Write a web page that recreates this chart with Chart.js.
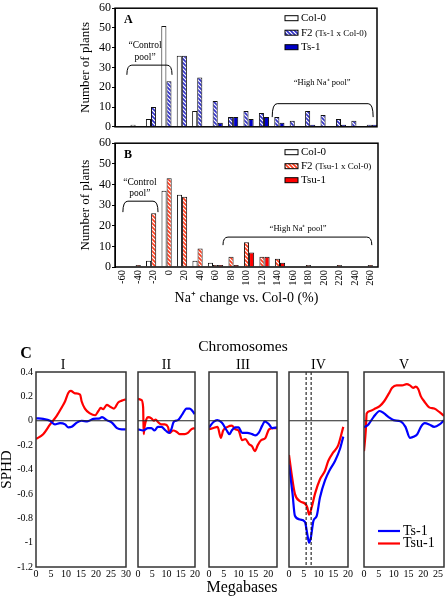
<!DOCTYPE html>
<html>
<head>
<meta charset="utf-8">
<script src="https://cdn.jsdelivr.net/npm/chart.js@4.4.0/dist/chart.umd.min.js"></script>
<style>
body { margin:0; background:#fff; width:446px; height:597px; position:relative; overflow:hidden; font-family:"Liberation Serif", serif; }
canvas { position:absolute; }
.lbl { position:absolute; white-space:nowrap; color:#000; line-height:1; transform:translate(-50%,-50%); }
</style>
</head>
<body>
<canvas id="chartA" width="446" height="135" style="left:0;top:0"></canvas>
<canvas id="chartB" width="446" height="175" style="left:0;top:135px"></canvas>
<canvas id="c0"></canvas><canvas id="c1"></canvas><canvas id="c2"></canvas><canvas id="c3"></canvas><canvas id="c4"></canvas>
<div class="lbl" style="left:26px;top:353px;font-weight:bold;font-size:16px">C</div>
<div class="lbl" style="left:243px;top:346px;font-size:15.5px">Chromosomes</div>
<div class="lbl" style="left:242px;top:587px;font-size:16px">Megabases</div>
<script>
// histogram categories (Na+ change vs Col-0, %)
const categories = ['-60','-40','-20','0','20','40','60','80','100','120','140','160','180','200','220','240','260'];

// panel A
const colA = [0,1,4,51,36,8,0,0,0,0,0,0,0,0,0,0,0];
const f2A  = [0,0,10,23,36,25,13,5,8,7,5,3,8,6,4,3,1];
const ts1A = [0,0,0,0,0,0,2,5,4,5,2,0,1,0,1,0,1];

// panel B
const colB  = [0,0,3,37,35,3,2,0,0,0,0,0,0,0,0,0,0];
const f2B   = [0,1,26,43,34,9,1,5,12,5,4,0,1,0,1,0,1];
const tsu1B = [0,0,0,0,0,0,1,1,7,5,2,0,0,0,0,0,0];

// panel C: [megabase, SPHD]
const chromNames = ['I','II','III','IV','V'];
const chromLengths = [30,20,23,20,27];
const ts1C = [
  [[0,0.02],[2.4,0.015],[4.7,0],[6.3,-0.03],[8,-0.02],[9.7,-0.03],[10.8,-0.055],[11.9,-0.05],[13.6,-0.015],[15.2,0],[17.1,-0.005],[19.1,0.015],[21.3,0.02],[22,0.03],[23.6,0.005],[25.3,-0.015],[27,-0.06],[28.6,-0.07],[29.9,-0.07]],
  [[0,-0.07],[1.8,-0.08],[3.5,-0.06],[4.7,-0.06],[5.8,-0.08],[7,-0.05],[8.2,-0.05],[9.7,-0.08],[10.9,-0.1],[11.7,-0.07],[12.5,-0.01],[14,0.005],[15.6,0.055],[17,0.1],[18.1,0.1],[19.1,0.08],[19.9,0.055]],
  [[0,-0.055],[1.5,-0.01],[2.8,0.005],[4.3,-0.015],[6,-0.08],[6.9,-0.11],[7.7,-0.08],[8.9,-0.055],[10,-0.055],[11.2,-0.1],[12.9,-0.1],[14.6,-0.11],[15.7,-0.12],[16.8,-0.1],[18,-0.04],[18.9,-0.005],[20.3,-0.03],[21.4,-0.06],[23,-0.055]],
  [[0,-0.36],[1.2,-0.6],[2,-0.78],[3.7,-0.81],[5.4,-0.83],[6.2,-0.93],[6.8,-1.0],[7.4,-0.96],[8.3,-0.82],[9.4,-0.78],[10.5,-0.63],[12.2,-0.49],[13.9,-0.4],[15.6,-0.33],[17.3,-0.23],[18.4,-0.13]],
  [[0,-0.055],[1.5,-0.03],[3.2,0.03],[5.3,0.08],[6.8,0.06],[8.3,0.03],[10,0.005],[12.3,-0.005],[14,-0.05],[15.5,-0.14],[16.9,-0.13],[18,-0.11],[19.2,-0.05],[20.5,-0.02],[22,-0.03],[23.7,-0.05],[25.5,-0.03],[27,0.005]]
];
const tsu1C = [
  [[0,-0.15],[2.4,-0.11],[4.7,-0.03],[6.9,0.04],[8.6,0.11],[9.7,0.16],[10.8,0.23],[11.6,0.245],[13,0.225],[14.7,0.215],[15.2,0.16],[16.3,0.1],[18,0.06],[19.7,0.045],[20.8,0.08],[21.6,0.105],[22.4,0.095],[23.6,0.13],[24.7,0.115],[26,0.1],[27.4,0.15],[28.6,0.165],[29.9,0.175]],
  [[0,0.18],[1.2,0.17],[1.8,0.11],[2,-0.11],[2.3,-0.05],[2.9,0.01],[3.5,0.03],[4.7,0.02],[5.5,0],[6.2,0.01],[7,-0.01],[8.2,-0.03],[9.4,-0.03],[10.5,-0.05],[11.1,-0.1],[12.3,-0.08],[13.5,-0.09],[14.6,-0.11],[16.4,-0.11],[17.5,-0.1],[18.7,-0.07],[19.9,-0.06]],
  [[0,-0.07],[1.5,-0.06],[2.9,-0.05],[4,-0.14],[4.8,-0.08],[6.3,-0.05],[7.7,-0.04],[8.9,-0.07],[10,-0.08],[11.2,-0.16],[12.3,-0.15],[13.5,-0.19],[14.6,-0.21],[15.5,-0.25],[16.5,-0.2],[17.6,-0.16],[19.1,-0.14],[20.3,-0.07],[21.8,-0.06],[23,-0.06]],
  [[0,-0.28],[0.9,-0.44],[2,-0.6],[3.7,-0.66],[5.4,-0.68],[6.2,-0.71],[6.8,-0.77],[7.7,-0.71],[8.8,-0.6],[10.5,-0.48],[12.2,-0.41],[13.3,-0.33],[15,-0.26],[16.7,-0.2],[18.4,-0.05]],
  [[0,-0.25],[0.6,-0.08],[0.9,0.06],[2,0.08],[3.8,0.1],[5.3,0.12],[6.8,0.16],[8.3,0.22],[9.5,0.27],[11,0.29],[12.9,0.29],[14.4,0.3],[15.5,0.29],[16.6,0.27],[17.5,0.28],[18.3,0.26],[19.2,0.2],[20.3,0.16],[22,0.11],[23.7,0.1],[25.5,0.07],[27,0.04]]
];
const ivMarkers = [5.8, 7.5];

const serif = '"Liberation Serif", "Times New Roman", serif';

function hatch(color) {
  const c = document.createElement('canvas');
  c.width = 4; c.height = 4;
  const g = c.getContext('2d');
  g.fillStyle = '#fff'; g.fillRect(0, 0, 4, 4);
  g.strokeStyle = color; g.lineWidth = 1.6;
  g.beginPath();
  g.moveTo(-1, -1); g.lineTo(5, 5);
  g.moveTo(3, -1); g.lineTo(5, 1);
  g.moveTo(-1, 3); g.lineTo(1, 5);
  g.stroke();
  return g.createPattern(c, 'repeat');
}

// frame, zero line, brackets, legends
const extras = {
  id: 'extras',
  afterDraw(chart, args, o) {
    const ctx = chart.ctx, a = chart.chartArea, xs = chart.scales.x, ys = chart.scales.y;
    ctx.save();
    if (o.zero) {
      const y0 = ys.getPixelForValue(0);
      ctx.lineWidth = 1; ctx.strokeStyle = '#222';
      ctx.beginPath(); ctx.moveTo(a.left, y0); ctx.lineTo(a.right, y0); ctx.stroke();
    }
    if (o.vlines) {
      ctx.setLineDash([3, 2]); ctx.lineWidth = 1; ctx.strokeStyle = '#000';
      o.vlines.forEach(v => {
        const x = xs.getPixelForValue(v);
        ctx.beginPath(); ctx.moveTo(x, a.top); ctx.lineTo(x, a.bottom); ctx.stroke();
      });
      ctx.setLineDash([]);
    }
    ctx.lineWidth = o.frameWidth || 1.5;
    ctx.strokeStyle = o.frameColor || '#000';
    ctx.strokeRect(a.left, a.top, a.right - a.left, a.bottom - a.top);
    ctx.fillStyle = '#000';
    if (o.letter) {
      ctx.font = 'bold 12px ' + serif; ctx.textAlign = 'left'; ctx.textBaseline = 'middle';
      ctx.fillText(o.letter, a.left + 9, a.top + 12);
    }
    (o.notes || []).forEach(n => {
      const x1 = xs.getPixelForValue(n.from), x2 = xs.getPixelForValue(n.to);
      const yh = ys.getPixelForValue(n.y), ye = ys.getPixelForValue(n.end);
      const r = Math.min(5, ye - yh);
      ctx.lineWidth = 1; ctx.strokeStyle = '#000';
      ctx.beginPath();
      ctx.moveTo(x1, ye); ctx.quadraticCurveTo(x1, yh, x1 + r, yh);
      ctx.lineTo(x2 - r, yh); ctx.quadraticCurveTo(x2, yh, x2, ye);
      ctx.stroke();
      ctx.font = n.size + 'px ' + serif; ctx.textAlign = 'center'; ctx.textBaseline = 'middle';
      n.lines.forEach((t, i) => ctx.fillText(t, xs.getPixelForValue(n.tx), ys.getPixelForValue(n.ty) + i * n.lh));
    });
    if (o.boxLegend) {
      const L = o.boxLegend;
      chart.data.datasets.forEach((d, i) => {
        const bx = a.left + L.dx, by = a.top + L.dy + i * L.gap;
        ctx.fillStyle = d.backgroundColor; ctx.fillRect(bx, by - 2.5, 13, 5);
        ctx.lineWidth = 1; ctx.strokeStyle = '#000'; ctx.strokeRect(bx, by - 2.5, 13, 5);
        ctx.fillStyle = '#000'; ctx.font = '11px ' + serif; ctx.textAlign = 'left'; ctx.textBaseline = 'middle';
        const sp = d.label.indexOf(' ');
        if (sp < 0) {
          ctx.fillText(d.label, bx + 16, by);
        } else {
          const head = d.label.slice(0, sp);
          ctx.fillText(head, bx + 16, by);
          const w = ctx.measureText(head + ' ').width;
          ctx.font = '9px ' + serif;
          ctx.fillText(d.label.slice(sp + 1), bx + 16 + w, by + 0.5);
        }
      });
    }
    if (o.lineLegend) {
      chart.data.datasets.forEach((d, i) => {
        const y = a.bottom - 36 + i * 12.5;
        ctx.strokeStyle = d.borderColor; ctx.lineWidth = 2.2;
        ctx.beginPath(); ctx.moveTo(a.left + 14, y); ctx.lineTo(a.left + 36, y); ctx.stroke();
        ctx.fillStyle = '#000'; ctx.font = '14px ' + serif; ctx.textAlign = 'left'; ctx.textBaseline = 'middle';
        ctx.fillText(d.label, a.left + 39, y);
      });
    }
    ctx.restore();
  }
};

function barChart(id, sets, o) {
  return new Chart(document.getElementById(id), {
    type: 'bar',
    data: {
      labels: categories,
      datasets: sets.map(s => ({ label: s[0], data: s[1], backgroundColor: s[2], borderColor: '#111', borderWidth: 1 }))
    },
    options: {
      responsive: false, animation: false, events: [],
      layout: { padding: o.padding },
      datasets: { bar: { categoryPercentage: 0.99, barPercentage: 1 } },
      scales: {
        x: {
          afterFit(s) { s.height = o.xHeight; },
          ticks: { display: o.xTicks, autoSkip: false, minRotation: 90, maxRotation: 90, padding: 3, color: '#000', font: { family: serif, size: 10.5 } },
          grid: { display: false, drawTicks: false },
          border: { display: false },
          title: { display: !!o.xTitle, text: o.xTitle, color: '#000', font: { family: serif, size: 14 }, padding: { top: 0, bottom: 3 } }
        },
        y: {
          min: 0, max: 60,
          afterFit(s) { s.width = 115; },
          ticks: { stepSize: 10, padding: 1, color: '#000', font: { family: serif, size: 12 } },
          grid: { drawOnChartArea: false, tickLength: 3, color: '#000' },
          border: { color: '#000' },
          title: { display: true, text: 'Number of plants', color: '#000', font: { family: serif, size: 13 }, padding: { top: 78, bottom: 0 } }
        }
      },
      plugins: { legend: { display: false }, tooltip: { enabled: false }, extras: o.extras }
    },
    plugins: [extras]
  });
}

barChart('chartA', [
  ['Col-0', colA, '#ffffff'],
  ['F2 (Ts-1 x Col-0)', f2A, hatch('#3030c8')],
  ['Ts-1', ts1A, '#0000c8']
], {
  padding: { top: 4, right: 69, left: 0, bottom: 0 }, xHeight: 8, xTicks: false,
  extras: {
    letter: 'A',
    boxLegend: { dx: 170, dy: 10, gap: 14.5 },
    notes: [
      { from: 0.27, to: 3.2, y: 31.2, end: 26.3, tx: 1.45, ty: 41, lh: 12, size: 9.5, lines: ['\u201cControl', 'pool\u201d'] },
      { from: 9.7, to: 16.25, y: 11.7, end: 4.9, tx: 12.94, ty: 22.4, lh: 0, size: 8.5, lines: ['\u201cHigh Na\u207a pool\u201d'] }
    ]
  }
});

barChart('chartB', [
  ['Col-0', colB, '#ffffff'],
  ['F2 (Tsu-1 x Col-0)', f2B, hatch('#ff3a1a')],
  ['Tsu-1', tsu1B, '#ff0000']
], {
  padding: { top: 8, right: 68, left: 0, bottom: 0 }, xHeight: 43, xTicks: true, xTitle: 'Na\u207a change vs. Col-0 (%)',
  extras: {
    letter: 'B',
    boxLegend: { dx: 170, dy: 9, gap: 14 },
    notes: [
      { from: 0.01, to: 2.28, y: 31.9, end: 26.6, tx: 1.11, ty: 41.1, lh: 11, size: 9.5, lines: ['\u201cControl', 'pool\u201d'] },
      { from: 6.48, to: 16.1, y: 14.5, end: 10.6, tx: 11.33, ty: 18.4, lh: 0, size: 8.5, lines: ['\u201cHigh Na\u207a pool\u201d'] }
    ]
  }
});

// panel C layout (chart area edges in page px)
const areaLeft = [36, 138, 209, 289, 364];
const areaRight = [126, 195, 277, 348, 444];
chromNames.forEach((name, i) => {
  const el = document.getElementById('c' + i);
  const padL = i === 0 ? 36 : 10, padR = 10;
  const left = areaLeft[i] - padL;
  el.width = areaRight[i] - left + padR;
  el.height = 226;
  el.style.left = left + 'px';
  el.style.top = '354px';
  const yAxis = {
    min: -1.2, max: 0.4, display: i === 0,
    ticks: { stepSize: 0.2, padding: 3, color: '#000', font: { family: serif, size: 10 }, callback: v => String(+v.toFixed(1)) },
    grid: { display: false, drawTicks: false }, border: { display: false },
    title: { display: true, text: 'SPHD', color: '#000', font: { family: serif, size: 15, lineHeight: 1 }, padding: { top: 0, bottom: 0 } }
  };
  if (i === 0) yAxis.afterFit = s => { s.width = 36; };
  new Chart(el, {
    type: 'line',
    data: {
      datasets: [
        { label: 'Ts-1', data: ts1C[i].map(p => ({ x: p[0], y: p[1] })), borderColor: '#0000ff', borderWidth: 2.2, pointRadius: 0, cubicInterpolationMode: 'monotone' },
        { label: 'Tsu-1', data: tsu1C[i].map(p => ({ x: p[0], y: p[1] })), borderColor: '#ff0000', borderWidth: 2.2, pointRadius: 0, cubicInterpolationMode: 'monotone' }
      ]
    },
    options: {
      responsive: false, animation: false, events: [],
      layout: { padding: { left: i === 0 ? 0 : padL, right: padR, top: 0, bottom: 0 } },
      scales: {
        x: {
          type: 'linear', min: 0, max: chromLengths[i],
          afterFit(s) { s.height = 13; },
          ticks: { stepSize: 5, includeBounds: false, maxRotation: 0, padding: 1, color: '#000', font: { family: serif, size: 10 } },
          grid: { display: false, drawTicks: false }, border: { display: false }
        },
        y: yAxis
      },
      plugins: {
        legend: { display: false }, tooltip: { enabled: false },
        title: { display: true, text: name, color: '#000', font: { family: serif, size: 14, weight: 'normal', lineHeight: 1 }, padding: { top: 4, bottom: 0 } },
        extras: { zero: true, frameColor: '#333', frameWidth: 1.5, vlines: i === 3 ? ivMarkers : null, lineLegend: i === 4 }
      }
    },
    plugins: [extras]
  });
});
</script>
</body>
</html>
